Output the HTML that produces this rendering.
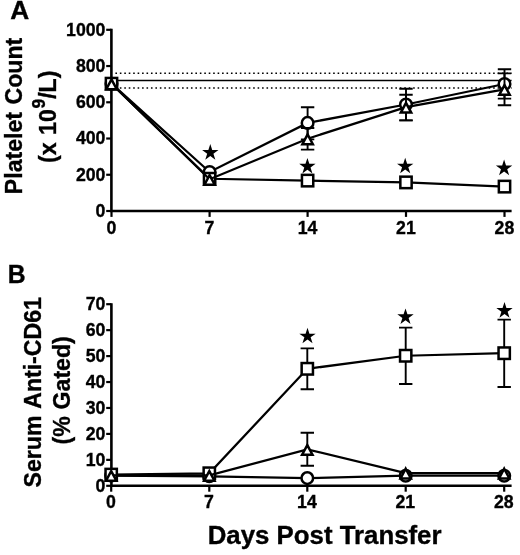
<!DOCTYPE html>
<html><head><meta charset="utf-8"><style>
html,body{margin:0;padding:0;background:#fff;}
svg{display:block;}
text{font-family:"Liberation Sans",sans-serif;font-weight:bold;fill:#000;stroke:#000;stroke-width:0.35px;}
.tk{font-size:17.7px;}
.tky{font-size:16.7px;}
.pl{font-size:25.5px;}
.yl{font-size:23.1px;}
.sup{font-size:17.5px;}
.xl{font-size:25.2px;}
</style></head><body>
<svg width="520" height="555" viewBox="0 0 520 555">
<defs><filter id="soft" x="0" y="0" width="520" height="555" filterUnits="userSpaceOnUse"><feGaussianBlur stdDeviation="0.45"/></filter></defs>
<rect width="520" height="555" fill="#fff"/>
<g filter="url(#soft)">
<line x1="115.4" y1="73.2" x2="511.6" y2="73.2" stroke="#000" stroke-width="1.6" stroke-dasharray="1.6 2.844"/>
<line x1="115.4" y1="88.0" x2="511.6" y2="88.0" stroke="#000" stroke-width="1.6" stroke-dasharray="1.6 2.844"/>
<line x1="111.4" y1="80.5" x2="511.6" y2="80.5" stroke="#000" stroke-width="1.6"/>
<path d="M111.40 28.80 V211.00 H511.60" stroke="#000" stroke-width="2.6" fill="none" stroke-linejoin="miter"/>
<line x1="106.20" y1="211.00" x2="111.40" y2="211.00" stroke="#000" stroke-width="2.2"/>
<text transform="translate(105.40,216.90) scale(1.000,1)" text-anchor="end" class="tk">0</text>
<line x1="106.20" y1="174.76" x2="111.40" y2="174.76" stroke="#000" stroke-width="2.2"/>
<text transform="translate(105.40,180.66) scale(1.000,1)" text-anchor="end" class="tk">200</text>
<line x1="106.20" y1="138.52" x2="111.40" y2="138.52" stroke="#000" stroke-width="2.2"/>
<text transform="translate(105.40,144.42) scale(1.000,1)" text-anchor="end" class="tk">400</text>
<line x1="106.20" y1="102.28" x2="111.40" y2="102.28" stroke="#000" stroke-width="2.2"/>
<text transform="translate(105.40,108.18) scale(1.000,1)" text-anchor="end" class="tk">600</text>
<line x1="106.20" y1="66.04" x2="111.40" y2="66.04" stroke="#000" stroke-width="2.2"/>
<text transform="translate(105.40,71.94) scale(1.000,1)" text-anchor="end" class="tk">800</text>
<line x1="106.20" y1="29.80" x2="111.40" y2="29.80" stroke="#000" stroke-width="2.2"/>
<text transform="translate(105.40,35.70) scale(1.000,1)" text-anchor="end" class="tk">1000</text>
<line x1="111.50" y1="211.00" x2="111.50" y2="216.90" stroke="#000" stroke-width="2.2"/>
<text transform="translate(111.40,234.40) scale(1.000,1)" text-anchor="middle" class="tk">0</text>
<line x1="209.60" y1="211.00" x2="209.60" y2="216.90" stroke="#000" stroke-width="2.2"/>
<text transform="translate(209.50,234.40) scale(1.000,1)" text-anchor="middle" class="tk">7</text>
<line x1="307.60" y1="211.00" x2="307.60" y2="216.90" stroke="#000" stroke-width="2.2"/>
<text transform="translate(307.50,234.40) scale(1.000,1)" text-anchor="middle" class="tk">14</text>
<line x1="406.00" y1="211.00" x2="406.00" y2="216.90" stroke="#000" stroke-width="2.2"/>
<text transform="translate(405.90,234.40) scale(1.000,1)" text-anchor="middle" class="tk">21</text>
<line x1="504.50" y1="211.00" x2="504.50" y2="216.90" stroke="#000" stroke-width="2.2"/>
<text transform="translate(504.40,234.40) scale(1.000,1)" text-anchor="middle" class="tk">28</text>
<polyline points="111.50,83.70 209.60,172.00 307.60,122.90 406.00,104.50 504.50,84.00" fill="none" stroke="#000" stroke-width="2.25"/>
<path d="M307.60 107.30 V139.40 M300.90 107.30 H314.30 M300.90 139.40 H314.30" stroke="#000" stroke-width="1.90" fill="none"/>
<path d="M406.00 88.80 V120.40 M399.30 88.80 H412.70 M399.30 120.40 H412.70" stroke="#000" stroke-width="1.90" fill="none"/>
<path d="M504.50 69.30 V98.60 M497.80 69.30 H511.20 M497.80 98.60 H511.20" stroke="#000" stroke-width="1.90" fill="none"/>
<circle cx="111.50" cy="83.70" r="5.80" fill="#fff" stroke="#000" stroke-width="2.50"/>
<circle cx="209.60" cy="172.00" r="5.80" fill="#fff" stroke="#000" stroke-width="2.50"/>
<circle cx="307.60" cy="122.90" r="5.80" fill="#fff" stroke="#000" stroke-width="2.50"/>
<circle cx="406.00" cy="104.50" r="5.80" fill="#fff" stroke="#000" stroke-width="2.50"/>
<circle cx="504.50" cy="84.00" r="5.80" fill="#fff" stroke="#000" stroke-width="2.50"/>
<polyline points="111.50,83.70 209.60,178.75 307.60,180.60 406.00,182.40 504.50,186.60" fill="none" stroke="#000" stroke-width="2.25"/>
<rect x="105.85" y="77.95" width="11.30" height="11.50" fill="#fff" stroke="#000" stroke-width="2.50"/>
<rect x="203.95" y="173.00" width="11.30" height="11.50" fill="#fff" stroke="#000" stroke-width="2.50"/>
<rect x="301.95" y="174.85" width="11.30" height="11.50" fill="#fff" stroke="#000" stroke-width="2.50"/>
<rect x="400.35" y="176.65" width="11.30" height="11.50" fill="#fff" stroke="#000" stroke-width="2.50"/>
<rect x="498.85" y="180.85" width="11.30" height="11.50" fill="#fff" stroke="#000" stroke-width="2.50"/>
<polyline points="111.50,83.70 209.60,179.30 307.60,138.70 406.00,107.10 504.50,89.30" fill="none" stroke="#000" stroke-width="2.25"/>
<path d="M307.60 128.00 V149.60 M300.90 128.00 H314.30 M300.90 149.60 H314.30" stroke="#000" stroke-width="1.90" fill="none"/>
<path d="M406.00 94.70 V120.40 M399.30 94.70 H412.70 M399.30 120.40 H412.70" stroke="#000" stroke-width="1.90" fill="none"/>
<path d="M504.50 73.40 V105.20 M497.80 73.40 H511.20 M497.80 105.20 H511.20" stroke="#000" stroke-width="1.90" fill="none"/>
<polygon points="111.50,79.45 116.70,89.15 106.30,89.15" fill="#fff" stroke="#000" stroke-width="2.50" stroke-linejoin="miter"/>
<polygon points="209.60,175.05 214.80,184.75 204.40,184.75" fill="#fff" stroke="#000" stroke-width="2.50" stroke-linejoin="miter"/>
<polygon points="307.60,134.45 312.80,144.15 302.40,144.15" fill="#fff" stroke="#000" stroke-width="2.50" stroke-linejoin="miter"/>
<polygon points="406.00,102.85 411.20,112.55 400.80,112.55" fill="#fff" stroke="#000" stroke-width="2.50" stroke-linejoin="miter"/>
<polygon points="504.50,85.05 509.70,94.75 499.30,94.75" fill="#fff" stroke="#000" stroke-width="2.50" stroke-linejoin="miter"/>
<polygon points="210.30,144.10 212.23,150.04 218.48,150.04 213.42,153.72 215.35,159.66 210.30,155.99 205.25,159.66 207.18,153.72 202.12,150.04 208.37,150.04" fill="#000"/>
<polygon points="307.40,157.90 309.33,163.84 315.58,163.84 310.52,167.52 312.45,173.46 307.40,169.79 302.35,173.46 304.28,167.52 299.22,163.84 305.47,163.84" fill="#000"/>
<polygon points="405.20,157.70 407.13,163.64 413.38,163.64 408.32,167.32 410.25,173.26 405.20,169.59 400.15,173.26 402.08,167.32 397.02,163.64 403.27,163.64" fill="#000"/>
<polygon points="504.10,159.60 506.03,165.54 512.28,165.54 507.22,169.22 509.15,175.16 504.10,171.49 499.05,175.16 500.98,169.22 495.92,165.54 502.17,165.54" fill="#000"/>
<path d="M111.40 303.20 V485.80 H511.60" stroke="#000" stroke-width="2.6" fill="none"/>
<line x1="106.20" y1="485.80" x2="111.40" y2="485.80" stroke="#000" stroke-width="2.2"/>
<text transform="translate(105.40,491.50) scale(1.000,1)" text-anchor="end" class="tk">0</text>
<line x1="106.20" y1="459.86" x2="111.40" y2="459.86" stroke="#000" stroke-width="2.2"/>
<text transform="translate(105.40,465.56) scale(1.000,1)" text-anchor="end" class="tk">10</text>
<line x1="106.20" y1="433.91" x2="111.40" y2="433.91" stroke="#000" stroke-width="2.2"/>
<text transform="translate(105.40,439.61) scale(1.000,1)" text-anchor="end" class="tk">20</text>
<line x1="106.20" y1="407.97" x2="111.40" y2="407.97" stroke="#000" stroke-width="2.2"/>
<text transform="translate(105.40,413.67) scale(1.000,1)" text-anchor="end" class="tk">30</text>
<line x1="106.20" y1="382.03" x2="111.40" y2="382.03" stroke="#000" stroke-width="2.2"/>
<text transform="translate(105.40,387.73) scale(1.000,1)" text-anchor="end" class="tk">40</text>
<line x1="106.20" y1="356.09" x2="111.40" y2="356.09" stroke="#000" stroke-width="2.2"/>
<text transform="translate(105.40,361.79) scale(1.000,1)" text-anchor="end" class="tk">50</text>
<line x1="106.20" y1="330.14" x2="111.40" y2="330.14" stroke="#000" stroke-width="2.2"/>
<text transform="translate(105.40,335.84) scale(1.000,1)" text-anchor="end" class="tk">60</text>
<line x1="106.20" y1="304.20" x2="111.40" y2="304.20" stroke="#000" stroke-width="2.2"/>
<text transform="translate(105.40,309.90) scale(1.000,1)" text-anchor="end" class="tk">70</text>
<line x1="111.20" y1="485.80" x2="111.20" y2="491.70" stroke="#000" stroke-width="2.2"/>
<text transform="translate(110.80,507.80) scale(1.000,1)" text-anchor="middle" class="tk">0</text>
<line x1="209.30" y1="485.80" x2="209.30" y2="491.70" stroke="#000" stroke-width="2.2"/>
<text transform="translate(208.90,507.80) scale(1.000,1)" text-anchor="middle" class="tk">7</text>
<line x1="307.30" y1="485.80" x2="307.30" y2="491.70" stroke="#000" stroke-width="2.2"/>
<text transform="translate(306.90,507.80) scale(1.000,1)" text-anchor="middle" class="tk">14</text>
<line x1="405.70" y1="485.80" x2="405.70" y2="491.70" stroke="#000" stroke-width="2.2"/>
<text transform="translate(405.30,507.80) scale(1.000,1)" text-anchor="middle" class="tk">21</text>
<line x1="504.20" y1="485.80" x2="504.20" y2="491.70" stroke="#000" stroke-width="2.2"/>
<text transform="translate(503.80,507.80) scale(1.000,1)" text-anchor="middle" class="tk">28</text>
<polyline points="111.20,475.60 209.30,476.30 307.30,478.10 405.70,475.70 504.20,475.70" fill="none" stroke="#000" stroke-width="2.25"/>
<circle cx="111.20" cy="475.60" r="5.80" fill="#fff" stroke="#000" stroke-width="2.50"/>
<circle cx="209.30" cy="476.30" r="5.80" fill="#fff" stroke="#000" stroke-width="2.50"/>
<circle cx="307.30" cy="478.10" r="5.80" fill="#fff" stroke="#000" stroke-width="2.50"/>
<circle cx="405.70" cy="475.70" r="5.80" fill="#fff" stroke="#000" stroke-width="2.50"/>
<circle cx="504.20" cy="475.70" r="5.80" fill="#fff" stroke="#000" stroke-width="2.50"/>
<polyline points="111.20,474.60 209.30,473.30 307.30,368.80 405.70,355.75 504.20,353.20" fill="none" stroke="#000" stroke-width="2.25"/>
<path d="M307.30 348.40 V389.30 M300.60 348.40 H314.00 M300.60 389.30 H314.00" stroke="#000" stroke-width="1.90" fill="none"/>
<path d="M405.70 327.60 V384.00 M399.00 327.60 H412.40 M399.00 384.00 H412.40" stroke="#000" stroke-width="1.90" fill="none"/>
<path d="M504.20 319.60 V387.00 M497.50 319.60 H510.90 M497.50 387.00 H510.90" stroke="#000" stroke-width="1.90" fill="none"/>
<rect x="105.55" y="468.85" width="11.30" height="11.50" fill="#fff" stroke="#000" stroke-width="2.50"/>
<rect x="203.65" y="467.55" width="11.30" height="11.50" fill="#fff" stroke="#000" stroke-width="2.50"/>
<rect x="301.65" y="363.05" width="11.30" height="11.50" fill="#fff" stroke="#000" stroke-width="2.50"/>
<rect x="400.05" y="350.00" width="11.30" height="11.50" fill="#fff" stroke="#000" stroke-width="2.50"/>
<rect x="498.55" y="347.45" width="11.30" height="11.50" fill="#fff" stroke="#000" stroke-width="2.50"/>
<polyline points="111.20,475.30 209.30,475.30 307.30,449.30 405.70,473.00 504.20,473.00" fill="none" stroke="#000" stroke-width="2.25"/>
<path d="M307.30 432.70 V465.70 M300.60 432.70 H314.00 M300.60 465.70 H314.00" stroke="#000" stroke-width="1.90" fill="none"/>
<polygon points="111.20,471.05 116.40,480.75 106.00,480.75" fill="#fff" stroke="#000" stroke-width="2.50" stroke-linejoin="miter"/>
<polygon points="209.30,471.05 214.50,480.75 204.10,480.75" fill="#fff" stroke="#000" stroke-width="2.50" stroke-linejoin="miter"/>
<polygon points="307.30,445.05 312.50,454.75 302.10,454.75" fill="#fff" stroke="#000" stroke-width="2.50" stroke-linejoin="miter"/>
<polygon points="405.70,468.75 410.90,478.45 400.50,478.45" fill="#fff" stroke="#000" stroke-width="2.50" stroke-linejoin="miter"/>
<polygon points="504.20,468.75 509.40,478.45 499.00,478.45" fill="#fff" stroke="#000" stroke-width="2.50" stroke-linejoin="miter"/>
<polygon points="307.50,327.70 309.43,333.64 315.68,333.64 310.62,337.32 312.55,343.26 307.50,339.59 302.45,343.26 304.38,337.32 299.32,333.64 305.57,333.64" fill="#000"/>
<polygon points="405.50,308.40 407.43,314.34 413.68,314.34 408.62,318.02 410.55,323.96 405.50,320.29 400.45,323.96 402.38,318.02 397.32,314.34 403.57,314.34" fill="#000"/>
<polygon points="504.50,302.10 506.43,308.04 512.68,308.04 507.62,311.72 509.55,317.66 504.50,313.99 499.45,317.66 501.38,311.72 496.32,308.04 502.57,308.04" fill="#000"/>
<text transform="translate(10.20,19.30) scale(1.030,1)" text-anchor="start" class="pl">A</text>
<text transform="translate(7.80,283.00) scale(0.970,1)" text-anchor="start" class="pl">B</text>
<text transform="translate(22.40,116.00) rotate(-90)" text-anchor="middle" class="yl" word-spacing="1.1">Platelet Count</text>
<text transform="translate(55.90,163.00) rotate(-90)" text-anchor="start" class="yl" word-spacing="1.1">(x 10</text>
<text transform="translate(44.80,108.50) rotate(-90)" text-anchor="start" class="sup" >9</text>
<text transform="translate(55.90,98.80) rotate(-90)" text-anchor="start" class="yl" >/L)</text>
<text transform="translate(41.00,392.30) rotate(-90)" text-anchor="middle" class="yl" word-spacing="1.2">Serum Anti-CD61</text>
<text transform="translate(69.80,390.40) rotate(-90)" text-anchor="middle" class="yl" word-spacing="0.5">(% Gated)</text>
<text transform="translate(324.60,543.90) scale(1.025,1)" text-anchor="middle" class="xl">Days Post Transfer</text>
</g>
</svg></body></html>
